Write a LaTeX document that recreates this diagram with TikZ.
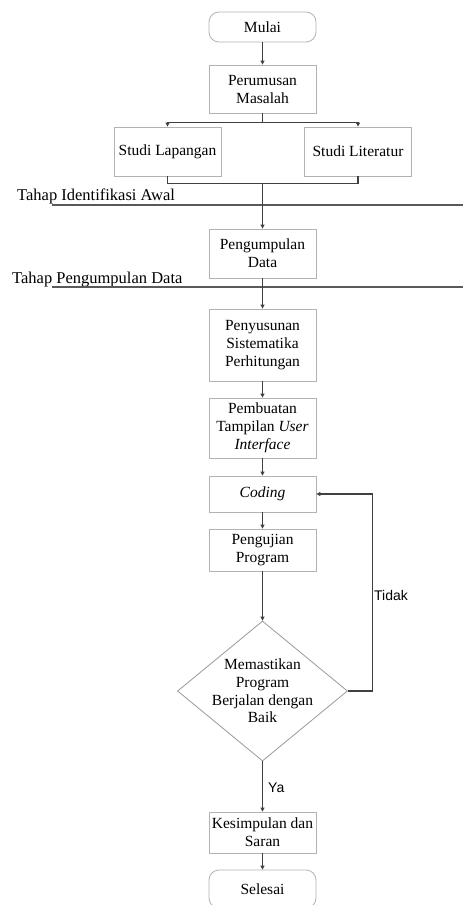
\documentclass[tikz,border=0pt]{standalone}
\usepackage{fontspec}
\setmainfont{Liberation Serif}
\setsansfont{Liberation Sans}
\usetikzlibrary{shapes.geometric,arrows.meta}

\tikzset{
  box/.style={draw=black!30, line width=0.8pt, minimum width=107pt, align=center,
    inner sep=1pt, font=\fontsize{15.5}{18}\selectfont},
  terminal/.style={box, rounded corners=10pt},
  decision/.style={diamond, draw=black!40, line width=0.8pt, minimum width=170pt,
    minimum height=140pt, inner sep=0pt},
  flowline/.style={draw=black!75, line width=1.15pt},
  flowarrow/.style={flowline, -{Triangle[length=4pt,width=4pt]}},
  phaseline/.style={draw=black!65, line width=1.2pt},
  phasetext/.style={anchor=base west, inner sep=0pt, font=\fontsize{16.5}{19}\selectfont},
  answer/.style={anchor=base west, inner sep=0pt, font=\sffamily\fontsize{14}{16}\selectfont}
}

\begin{document}
\begin{tikzpicture}
  \useasboundingbox (0pt,0pt) rectangle (463pt,-905pt);

  \node (Mulai) [terminal, minimum height=30pt] at (262.5pt,-27pt) {Mulai};
  \node (Perumusan) [box, minimum height=48pt, below of=Mulai, node distance=62pt] {Perumusan\\Masalah};

  \node (Lapangan) [box, minimum height=49pt, below of=Perumusan, node distance=62.5pt, xshift=-95pt] {Studi Lapangan};
  \node (Literatur) [box, minimum height=49pt, below of=Perumusan, node distance=62.5pt, xshift=95.5pt] {Studi Literatur};

  \node (Pengumpulan) [box, minimum height=49pt, below of=Perumusan, node distance=164.5pt] {Pengumpulan\\Data};
  \node (Penyusunan) [box, minimum height=72pt, below of=Pengumpulan, node distance=91.5pt] {Penyusunan\\Sistematika\\Perhitungan};
  \node (Pembuatan) [box, minimum height=60pt, below of=Penyusunan, node distance=83pt] {Pembuatan\\Tampilan \textit{User}\\\textit{Interface}};
  \node (Coding) [box, minimum height=36pt, below of=Pembuatan, node distance=66pt] {\textit{Coding}};
  \node (Pengujian) [box, minimum height=42pt, below of=Coding, node distance=56pt] {Pengujian\\Program};

  \node (Cek) [decision, below of=Pengujian, node distance=141pt,
    label={[align=center, font=\fontsize{15.5}{17.7}\selectfont]center:Memastikan\\Program\\Berjalan dengan\\Baik}] {};

  \node (Kesimpulan) [box, minimum height=41pt, below of=Cek, node distance=141.5pt] {Kesimpulan dan\\Saran};
  \node (Selesai) [terminal, minimum height=38pt, below of=Kesimpulan, node distance=56.5pt] {Selesai};

  % tahap
  \node (TahapAwal) [phasetext] at (17pt,-200pt) {Tahap Identifikasi Awal};
  \node (TahapData) [phasetext] at (12pt,-283.5pt) {Tahap Pengumpulan Data};
  \draw[phaseline] (52pt,-205pt) -- (463pt,-205pt);
  \draw[phaseline] (52pt,-287pt) -- (463pt,-287pt);

  % alur
  \draw[flowarrow] (Mulai) -- (Perumusan);
  \draw[flowline] (Perumusan.south) -- ++(0,-9pt) coordinate (Cabang);
  \draw[flowarrow] (Cabang) -| (Lapangan.north);
  \draw[flowarrow] (Cabang) -| (Literatur.north);

  \coordinate (Gabung) at ([yshift=-7pt]Pengumpulan.north |- Lapangan.south);
  \draw[flowline] (Lapangan.south) |- (Gabung) -| (Literatur.south);
  \draw[flowarrow] (Gabung) -- (Pengumpulan.north);

  \draw[flowarrow] (Pengumpulan) -- (Penyusunan);
  \draw[flowarrow] (Penyusunan) -- (Pembuatan);
  \draw[flowarrow] (Pembuatan) -- (Coding);
  \draw[flowarrow] (Coding) -- (Pengujian);
  \draw[flowarrow] (Pengujian) -- (Cek.north);
  \draw[flowarrow] (Cek.south) -- (Kesimpulan);
  \draw[flowarrow] (Kesimpulan) -- (Selesai);

  \draw[flowarrow] (Cek.east) -- ++(25pt,0) |- (Coding.east);

  \node (Tidak) [answer] at (374pt,-600pt) {Tidak};
  \node (Ya) [answer] at (268pt,-792pt) {Ya};

\end{tikzpicture}
\end{document}
